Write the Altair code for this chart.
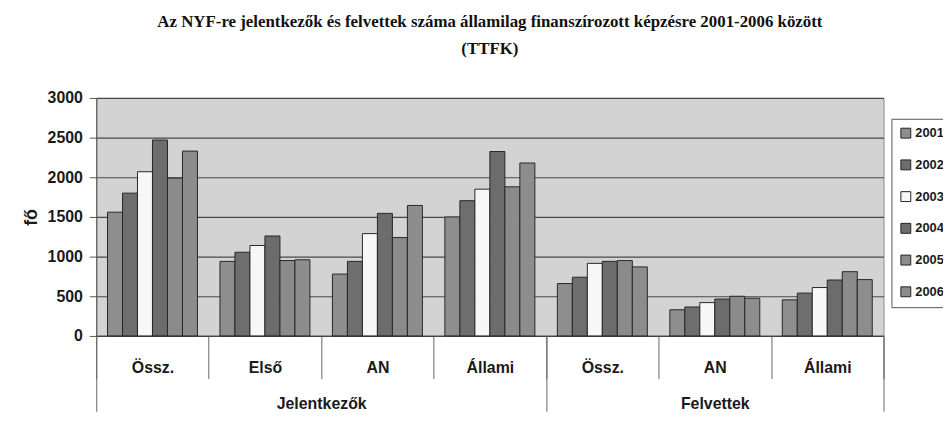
import altair as alt
import pandas as pd

# ---- data ----
years = ["2001", "2002", "2003", "2004", "2005", "2006"]
group_names = ["Jelentkezők", "Felvettek"]
group_sizes = [4, 3]
categories = ["Össz.", "Első", "AN", "Állami", "Össz.", "AN", "Állami"]

j_ossz = [1560, 1800, 2070, 2470, 1990, 2330]
j_elso = [940, 1055, 1140, 1260, 950, 960]
j_an = [780, 940, 1290, 1545, 1240, 1645]
j_allami = [1500, 1705, 1850, 2325, 1880, 2180]
f_ossz = [660, 740, 915, 940, 950, 870]
f_an = [330, 365, 420, 465, 500, 475]
f_allami = [455, 540, 610, 705, 810, 710]

y_ticks = [0, 500, 1000, 1500, 2000, 2500, 3000]
year_colors = ["#8e8e8e", "#6e6e6e", "#f7f7f7", "#6c6c6c", "#8b8b8b", "#8d8d8d"]

title_lines = [
    "Az NYF-re jelentkezők és felvettek száma államilag finanszírozott képzésre 2001-2006 között",
    "(TTFK)",
]

# ---- tables ----
series = [j_ossz, j_elso, j_an, j_allami, f_ossz, f_an, f_allami]
cat_groups = [g for g, n in zip(group_names, group_sizes) for _ in range(n)]
keys = [f"{g}|{c}" for g, c in zip(cat_groups, categories)]
rows = []
for key, vals in zip(keys, series):
    for yr, v in zip(years, vals):
        rows.append({"key": key, "year": yr, "value": v})
df = pd.DataFrame(rows)

boundaries = [0]
for n in group_sizes:
    boundaries.append(boundaries[-1] + n)
centers = [(a + b) / 2 for a, b in zip(boundaries[:-1], boundaries[1:])]
bdf = pd.DataFrame({"pos": boundaries})
cdf = pd.DataFrame({"pos": centers, "name": group_names})

FONT = "Liberation Sans"
TXT = "#1a1a1a"

bars = alt.Chart(df).mark_bar(stroke="#262626", strokeWidth=1).encode(
    x=alt.X(
        "key:N",
        sort=keys,
        scale=alt.Scale(paddingInner=0, paddingOuter=0),
        axis=alt.Axis(
            orient="bottom", title=None, labelAngle=0,
            labelExpr="split(datum.label, '|')[1]",
            tickBand="extent", tickSize=43, tickColor="#666", tickWidth=1,
            labelPadding=-6, labelBaseline="alphabetic",
            labelFont=FONT, labelFontSize=16, labelFontWeight="bold", labelColor=TXT,
            domainColor="#444", domainWidth=1.2, grid=False,
        ),
    ),
    xOffset=alt.XOffset("year:N", sort=years,
                        scale=alt.Scale(paddingInner=0, paddingOuter=0.75)),
    y=alt.Y(
        "value:Q",
        scale=alt.Scale(domain=[0, 3000], nice=False),
        axis=alt.Axis(
            values=y_ticks, format="d", title="fő", titleFont=FONT, titleFontSize=18,
            titleFontWeight="bold", titleColor=TXT, titlePadding=7,
            labelFont=FONT, labelFontSize=16, labelFontWeight="bold", labelColor=TXT,
            labelPadding=7, tickSize=7, tickColor="#555", domainColor="#555",
            grid=True, gridColor="#484848", gridWidth=1.2,
        ),
    ),
    color=alt.Color(
        "year:N", sort=years,
        scale=alt.Scale(domain=years, range=year_colors),
        legend=alt.Legend(
            orient="none", legendX=802, legendY=21, title=None,
            symbolType="square", symbolSize=100, symbolStrokeColor="#222",
            symbolStrokeWidth=1, labelFont=FONT, labelFontSize=13,
            labelFontWeight="bold", labelColor=TXT, labelOffset=3,
            rowPadding=17, padding=8, strokeColor="#555", fillColor="white",
        ),
    ),
)

outer = alt.Chart(bdf).mark_point(opacity=0).encode(
    x=alt.X(
        "pos:Q",
        scale=alt.Scale(domain=[0, boundaries[-1]], nice=False, zero=False),
        axis=alt.Axis(orient="bottom", values=boundaries, labels=False,
                      tickSize=76, tickColor="#666", tickWidth=1,
                      domain=False, grid=False, title=None),
    )
)

glabels = alt.Chart(cdf).mark_point(opacity=0).encode(
    x=alt.X(
        "pos:Q",
        scale=alt.Scale(domain=[0, boundaries[-1]], nice=False, zero=False),
        axis=alt.Axis(
            orient="bottom", values=centers, ticks=False, tickSize=0, domain=False,
            grid=False, title=None,
            labelExpr=f"datum.value < {boundaries[1]} ? '{group_names[0]}' : '{group_names[1]}'",
            labelPadding=73, labelBaseline="alphabetic", labelFlush=False,
            labelOverlap=False, labelBound=False,
            labelFont=FONT, labelFontSize=16, labelFontWeight="bold", labelColor=TXT,
        ),
    )
)

chart = alt.layer(bars, outer, glabels).resolve_scale(x="independent").properties(
    width=794,
    height=240,
    autosize=alt.AutoSizeParams(type="none"),
    padding={"left": 89, "top": 89, "right": 60, "bottom": 76},
    background="white",
    title=alt.TitleParams(
        text=title_lines, font="Liberation Serif", fontSize=17, fontWeight="bold",
        color="#111", anchor="middle", frame="group", offset=32, lineHeight=28,
    ),
).configure_view(fill="#d3d3d3", stroke="#888")

chart.save("out.html", embed_options={"renderer": "svg", "actions": False})
